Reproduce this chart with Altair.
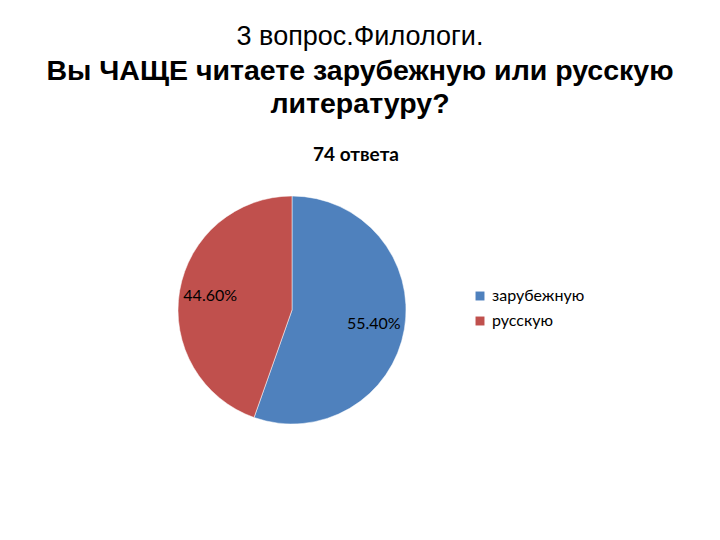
import altair as alt
import pandas as pd

categories = ["зарубежную", "русскую"]
shares = [55.40, 44.60]
labels = ["55.40%", "44.60%"]
colors = ["#4F81BD", "#C0504D"]
title_line = "3 вопрос.Филологи."
subtitle_lines = ["Вы ЧАЩЕ читаете зарубежную или русскую", "литературу?"]
answers_text = "74 ответа"

df = pd.DataFrame({"category": categories, "share": shares, "label": labels,
                   "order": list(range(len(categories)))})

P = 130
W, H = 704, 524 - P

base = alt.Chart(df).encode(
    theta=alt.Theta("share:Q", stack=True),
    order=alt.Order("order:Q"),
)

pie = base.mark_arc(outerRadius=114, stroke="#ffffff", strokeWidth=0.5).encode(
    color=alt.Color(
        "category:N",
        scale=alt.Scale(domain=categories, range=colors),
        sort=categories,
        legend=alt.Legend(
            title=None, orient="none", legendX=464, legendY=150,
            symbolType="square", symbolSize=80, symbolStrokeWidth=0,
            labelFont="Lato", labelFontSize=16, labelColor="#000000",
            rowPadding=9, labelOffset=4,
        ),
    ),
    x=alt.value(284), y=alt.value(172),
)

txt = base.mark_text(radius=83, font="Lato", fontSize=16, color="#000000").encode(
    text="label:N", x=alt.value(284), y=alt.value(172),
)

ans = alt.Chart(pd.DataFrame({"t": [answers_text]})).mark_text(
    font="Lato", fontSize=19, fontWeight="bold", color="#000000"
).encode(text="t:N", x=alt.value(W / 2 - 4), y=alt.value(155 - 8 - P))

chart = alt.layer(pie, txt, ans).properties(
    width=W, height=H,
    autosize=alt.AutoSizeParams(type="none"),
    padding={"left": 0, "top": P, "right": 0, "bottom": 0},
    title=alt.TitleParams(
        text=title_line, subtitle=subtitle_lines,
        font="Liberation Sans", fontSize=27, fontWeight="normal", color="#000000",
        subtitleFont="Liberation Sans", subtitleFontSize=28.5, subtitleFontWeight="bold",
        subtitleColor="#000000", subtitleLineHeight=33, subtitlePadding=6,
        anchor="middle", offset=19,
    ),
).configure_view(stroke=None)

chart.save("out.html", embed_options={"renderer": "svg", "actions": False})
